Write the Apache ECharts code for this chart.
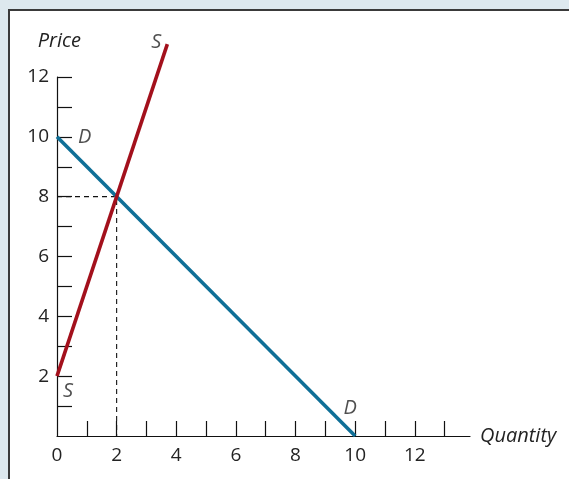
<!DOCTYPE html>
<html>
<head>
<meta charset="utf-8">
<script src="https://cdn.jsdelivr.net/npm/echarts@6/dist/echarts.min.js"></script>
<style>
  html, body { margin: 0; padding: 0; background: #dde8ee; }
  #frame { position: absolute; left: 8px; top: 9px; right: 0; bottom: 0; background: #fff;
           border-left: 2px solid #3a3a3a; border-top: 2px solid #3a3a3a; }
  #chart { position: absolute; left: 0; top: 0; width: 569px; height: 479px; }
</style>
</head>
<body>
<div id="frame"></div>
<div id="chart"></div>
<script>
// Supply and demand schedules (quantity, price)
const supplyPoints = [[0, 2], [3.7, 13.1]];
const demandPoints = [[0, 10], [10, 0]];
const equilibrium = [2, 8];

const xTickValues = [1, 2, 3, 4, 5, 6, 7, 8, 9, 10, 11, 12, 13];
const xLabelValues = [0, 2, 4, 6, 8, 10, 12];
const yTickValues = [1, 2, 3, 4, 5, 6, 7, 8, 9, 10, 11, 12];
const yLabelValues = [2, 4, 6, 8, 10, 12];

const FONT = '"Open Sans", "DejaVu Sans", sans-serif';
const SUPPLY_COLOR = '#a3101c';
const DEMAND_COLOR = '#0f6f97';
const TEXT_COLOR = '#232323';

const chart = echarts.init(document.getElementById('chart'), null, { renderer: 'canvas' });

const curveLabel = (text, pos, offset) => ({
  show: true, formatter: text, position: pos, offset: offset,
  fontFamily: FONT, fontStyle: 'italic', fontSize: 20, color: TEXT_COLOR
});

// invisible anchors that carry the S / D curve names
const nameAnchors = [
  { value: supplyPoints[1], label: curveLabel('S', 'left', [-1, -2]) },
  { value: supplyPoints[0], label: curveLabel('S', 'right', [1, 15]) },
  { value: demandPoints[0], label: curveLabel('D', 'right', [16, 0]) },
  { value: demandPoints[1], label: curveLabel('D', 'top', [-5, -13]) }
];

chart.setOption({
  animation: false,
  backgroundColor: 'transparent',
  grid: { left: 57, right: 99, top: 77, bottom: 43 },
  xAxis: {
    type: 'value', min: 0, max: 13.85,
    name: 'Quantity', nameLocation: 'end', nameGap: 10,
    nameTextStyle: { fontFamily: FONT, fontStyle: 'italic', fontSize: 20, color: TEXT_COLOR, verticalAlign: 'middle' },
    axisLine: { show: true, lineStyle: { color: '#111', width: 1.2 } },
    axisTick: { show: true, inside: true, length: 15, customValues: xTickValues, lineStyle: { color: '#111', width: 1.2 } },
    axisLabel: { customValues: xLabelValues, fontFamily: FONT, fontSize: 19, color: TEXT_COLOR, margin: 10 },
    splitLine: { show: false }
  },
  yAxis: {
    type: 'value', min: 0, max: 12,
    name: 'Price', nameLocation: 'end', nameGap: 26,
    nameTextStyle: { fontFamily: FONT, fontStyle: 'italic', fontSize: 20, color: TEXT_COLOR, align: 'right', padding: [0, -24, 0, 0] },
    axisLine: { show: true, lineStyle: { color: '#111', width: 1.2 } },
    axisTick: { show: true, inside: true, length: 15, customValues: yTickValues, lineStyle: { color: '#111', width: 1.2 } },
    axisLabel: { customValues: yLabelValues, fontFamily: FONT, fontSize: 19, color: TEXT_COLOR, margin: 8 },
    splitLine: { show: false }
  },
  series: [
    {
      // dashed guides to the equilibrium point
      type: 'line', data: [[0, equilibrium[1]], equilibrium, [equilibrium[0], 0]],
      symbol: 'none', silent: true,
      lineStyle: { color: '#111', width: 1.1, type: [5, 4] }, z: 1
    },
    {
      type: 'line', name: 'Supply', data: supplyPoints, symbol: 'none', clip: false,
      lineStyle: { color: SUPPLY_COLOR, width: 3.6 }, z: 3
    },
    {
      type: 'line', name: 'Demand', data: demandPoints, symbol: 'none', clip: false,
      lineStyle: { color: DEMAND_COLOR, width: 3.6 }, z: 2
    },
    {
      type: 'scatter', data: nameAnchors, symbolSize: 0, clip: false, silent: true, z: 4
    }
  ]
});
</script>
</body>
</html>
